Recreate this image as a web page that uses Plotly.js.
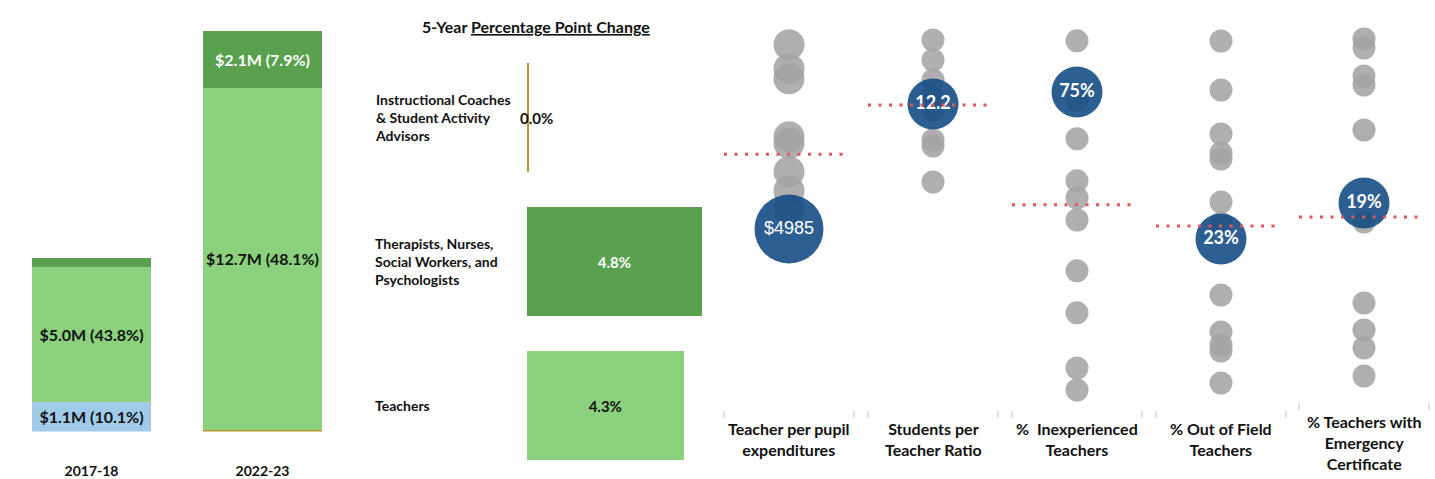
<!DOCTYPE html>
<html><head><meta charset="utf-8">
<script src="https://cdn.plot.ly/plotly-3.0.1.min.js"></script>
<style>html,body{margin:0;padding:0;background:#fff;} #chart{width:1435px;height:479px;}</style>
</head><body><div id="chart"></div>
<script>
// ---------- Left: staff spending by year ($M and share of budget) ----------
const years = ['2017-18', '2022-23'];
const otherStaffM = [1.1, 0];
const otherStaffPct = [10.1, 0];
const coachesM = [0, 0.07];
const coachesPct = [0, 0.3];
const teachersM = [5.0, 12.7];
const teachersPct = [43.8, 48.1];
const supportM = [0.35, 2.1];
const supportPct = [3.1, 7.9];

// ---------- Middle: 5-year percentage point change ----------
const changeCategories = [
  'Instructional Coaches<br>& Student Activity<br>Advisors',
  'Therapists, Nurses,<br>Social Workers, and<br>Psychologists',
  'Teachers'
];
const changePts = [0.049, 4.8, 4.3];

// ---------- Right: district (blue) vs peers (grey), dotted = average ----------
const metricNames = [
  'Teacher per pupil<br>expenditures',
  'Students per<br>Teacher Ratio',
  '%  Inexperienced<br>Teachers',
  '% Out of Field<br>Teachers',
  '% Teachers with<br>Emergency<br>Certificate'
];
const expPeers = [8670, 8190, 7990, 6830, 6700, 6130, 5750, 5370];
const expDistrict = 4985;
const expAverage = 6480;
const ratioPeers = [15.4, 14.4, 13.4, 12.6, 11.9, 10.4, 10.1, 8.3];
const ratioDistrict = 12.2;
const ratioAverage = 12.15;
const inexpPeers = [87.8, 73, 63.3, 52.8, 48.5, 43, 30.3, 19.8, 6, 0.5];
const inexpDistrict = 75;
const inexpAverage = 46.8;
const outFieldPeers = [42.8, 37.9, 33.5, 31.6, 31, 26.7, 24.6, 17.4, 13.7, 12.4, 11.8, 8.6];
const outFieldDistrict = 23;
const outFieldAverage = 24.3;
const emergPeers = [35.4, 34.5, 31.7, 30.8, 26.3, 17.1, 9, 6.3, 4.5, 1.7];
const emergDistrict = 19;
const emergAverage = 17.6;

// ---------- helpers ----------
const W = 1435, H = 479;
const px = x => x / W;
const py = y => 1 - y / H;
const FONT = 'Lato, "Open Sans", sans-serif';

const traces = [];
const fmtSeg = (v, p) => v >= 1 ? '$' + v.toFixed(1) + 'M (' + p.toFixed(1) + '%)' : '';

function segTrace(name, vals, pcts, color, txtColor) {
  return {
    type: 'bar', name: name, x: years, y: vals, xaxis: 'x', yaxis: 'y',
    marker: {color: color}, width: 0.696,
    text: vals.map((v, i) => fmtSeg(v, pcts[i])),
    textposition: 'inside', insidetextanchor: 'middle', textangle: 0,
    textfont: {family: FONT, size: 16, color: txtColor, weight: 'bold'},
    hoverinfo: 'skip', showlegend: false
  };
}
traces.push(segTrace('Other staff', otherStaffM, otherStaffPct, '#a0cbe8', '#111'));
traces.push(segTrace('Instructional Coaches & Student Activity Advisors', coachesM, coachesPct, '#b6992d', '#111'));
traces.push(segTrace('Teachers', teachersM, teachersPct, '#8cd17d', '#111'));
traces.push(segTrace('Therapists, Nurses, Social Workers, and Psychologists', supportM, supportPct, '#59a14f', '#fff'));

// middle bars
traces.push({
  type: 'bar', orientation: 'h', y: changeCategories, x: changePts,
  xaxis: 'x2', yaxis: 'y2', width: 0.757,
  marker: {color: ['#b6992d', '#59a14f', '#8cd17d']},
  text: changePts.map(v => v >= 1 ? v.toFixed(1) + '%' : ''),
  textposition: 'inside', insidetextanchor: 'middle', textangle: 0,
  textfont: {family: FONT, size: 15, weight: 'bold', color: ['#111', '#fff', '#111']},
  hoverinfo: 'skip', showlegend: false
});

// right dot columns
const cols = [
  {peers: expPeers, dist: expDistrict, avg: expAverage, fmt: v => '$' + v, font: {family: '"Liberation Sans", Arial, sans-serif', size: 18, color: '#fff'}, big: true},
  {peers: ratioPeers, dist: ratioDistrict, avg: ratioAverage, fmt: v => v.toFixed(1), font: {family: FONT, size: 18, color: '#fff', weight: 'bold'}},
  {peers: inexpPeers, dist: inexpDistrict, avg: inexpAverage, fmt: v => v + '%', font: {family: FONT, size: 18, color: '#fff', weight: 'bold'}},
  {peers: outFieldPeers, dist: outFieldDistrict, avg: outFieldAverage, fmt: v => v + '%', font: {family: FONT, size: 18, color: '#fff', weight: 'bold'}},
  {peers: emergPeers, dist: emergDistrict, avg: emergAverage, fmt: v => v + '%', font: {family: FONT, size: 18, color: '#fff', weight: 'bold'}}
];
const colPx = [[724, 854], [868, 998], [1012, 1142], [1156, 1286], [1299, 1429]];
const yRanges = [[1465, 9165], [-2.85, 16.4], [-3.25, 93], [6.4, 44.9], [-1.2, 37.3]];

const layout = {
  width: W, height: H, margin: {l: 0, r: 0, t: 0, b: 0},
  paper_bgcolor: '#fff', plot_bgcolor: 'rgba(0,0,0,0)',
  barmode: 'stack', showlegend: false,
  font: {family: FONT, color: '#111'},
  xaxis: {domain: [px(6), px(348)], type: 'category', showgrid: false, zeroline: false, showline: false,
    ticks: 'outside', ticklen: 27, tickcolor: 'rgba(0,0,0,0)',
    tickfont: {family: FONT, size: 14, weight: 'bold', color: '#111'}, fixedrange: true},
  yaxis: {domain: [py(431.5), py(31)], range: [0, coachesM[1] + teachersM[1] + supportM[1]], visible: false, fixedrange: true},
  xaxis2: {domain: [px(527), px(720)], range: [0, 193 / 36.4], visible: false, fixedrange: true},
  yaxis2: {domain: [py(477.5), py(45.5)], type: 'category', autorange: 'reversed', visible: false, fixedrange: true},
  annotations: [], shapes: []
};

cols.forEach((c, i) => {
  const n = i + 3;
  const xa = 'x' + n, ya = 'y' + n;
  const name = metricNames[i];
  traces.push({
    type: 'scatter', mode: 'markers', xaxis: xa, yaxis: ya,
    x: c.peers.map(() => name), y: c.peers,
    marker: {size: c.big ? 31 : 23, color: 'rgba(164,164,164,0.875)', line: {width: 0}},
    hoverinfo: 'skip', showlegend: false
  });
  traces.push({
    type: 'scatter', mode: 'markers+text', xaxis: xa, yaxis: ya,
    x: [name], y: [c.dist], text: [c.fmt(c.dist)], textposition: 'middle center',
    textfont: c.font,
    marker: {size: c.big ? 69 : 51, color: 'rgba(22,77,133,0.9)', line: {width: 0}},
    hoverinfo: 'skip', showlegend: false
  });
  layout['xaxis' + n] = {domain: [px(colPx[i][0]), px(colPx[i][1])], type: 'category', range: [-0.5, 0.5], visible: false, fixedrange: true};
  layout['yaxis' + n] = {domain: [py(405), py(20)], range: yRanges[i], visible: false, fixedrange: true};
  layout.shapes.push({type: 'line', xref: xa + ' domain', x0: 0, x1: 0.97, yref: ya, y0: c.avg, y1: c.avg,
    line: {color: '#e15759', width: 3, dash: '3px,7.5px'}});
  // header
  const headerY = i === 4 ? 442.5 : 439;
  layout.annotations.push({xref: xa + ' domain', x: 0.5, yref: 'paper', y: py(headerY), yanchor: 'middle',
    text: name, showarrow: false, align: 'center', font: {family: FONT, size: 16, weight: 'bold', color: '#111'}});
  // small divider ticks
  const t0 = i === 4 ? 403 : 411, t1 = i === 4 ? 410 : 418;
  colPx[i].forEach(xx => layout.shapes.push({type: 'line', xref: 'paper', yref: 'paper',
    x0: px(xx), x1: px(xx), y0: py(t0), y1: py(t1), line: {color: '#c4c4c4', width: 1}}));
});

// middle chart labels
changeCategories.forEach((cat, i) => {
  layout.annotations.push({xref: 'paper', x: px(373), xanchor: 'left', yref: 'y2', y: cat, yanchor: 'middle',
    text: cat, showarrow: false, align: 'left', font: {family: FONT, size: 14, weight: 'bold', color: '#111'}});
  if (changePts[i] < 1) {
    layout.annotations.push({xref: 'x2', x: changePts[i], xanchor: 'center', xshift: 8, yref: 'y2', y: cat, yanchor: 'middle',
      text: changePts[i].toFixed(1) + '%', showarrow: false, font: {family: FONT, size: 15, weight: 'bold', color: '#111'}});
  }
});
layout.annotations.push({xref: 'paper', x: px(536), yref: 'paper', y: py(26), yanchor: 'middle', showarrow: false,
  text: '5-Year <span style="text-decoration:underline">Percentage Point Change</span>',
  font: {family: FONT, size: 16, weight: 'bold', color: '#111'}});

Plotly.newPlot('chart', traces, layout, {staticPlot: true, displayModeBar: false});
</script>
</body></html>
